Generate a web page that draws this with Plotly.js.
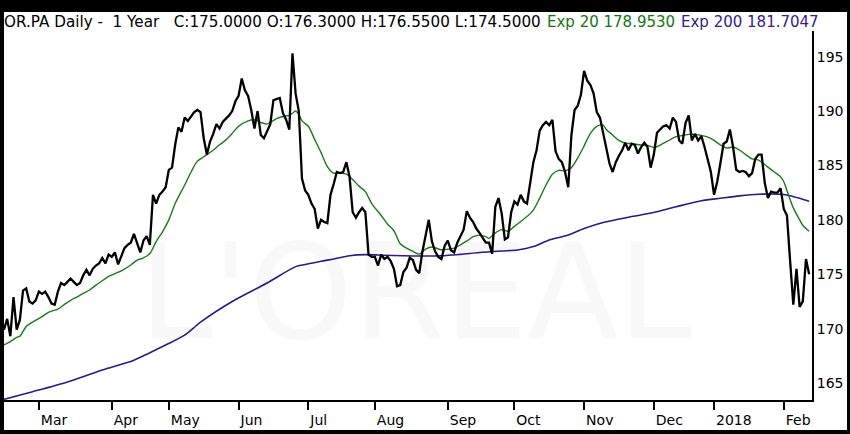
<!DOCTYPE html>
<html><head><meta charset="utf-8">
<script src="https://cdn.plot.ly/plotly-3.0.1.min.js"></script>
<style>
html,body{margin:0;padding:0;background:#000;width:850px;height:434px;overflow:hidden}
#chart{position:absolute;left:4px;top:12px;width:843px;height:418px;background:#fff}
</style>
</head><body><div id="chart"></div>
<script>
// Daily closes, one per trading day (2017-02-14 .. 2018-02-13)
const closeVals = [
169.9,170.9,169.3,172.9,169.9,170.8,173.5,173.7,172.5,172.3,
172.6,173.4,173.2,173.4,172.9,172.3,172.2,173.4,174.2,174.0,
174.3,174.6,174.3,174.0,174.2,174.9,175.4,174.9,175.5,175.8,
176.0,176.5,176.0,176.8,176.6,177.0,175.9,176.7,177.4,177.7,
177.9,178.7,177.8,177.0,178.1,178.5,177.7,182.3,181.5,182.3,
182.6,183.0,184.6,184.8,186.9,188.5,188.1,189.4,189.1,189.5,
189.9,190.1,189.9,187.5,186.0,187.2,187.9,188.8,188.4,189.0,
189.3,189.6,190.0,190.9,191.4,193.0,191.9,191.4,190.1,188.4,
190.0,187.8,187.5,188.1,188.8,191.0,191.1,191.2,189.8,189.2,
188.3,195.3,191.6,190.0,183.8,182.7,182.3,181.5,181.0,179.2,
180.0,179.8,179.7,182.3,183.3,184.4,184.3,184.4,185.3,184.0,
180.7,180.2,180.7,181.1,180.7,176.8,176.6,176.6,175.8,176.8,
176.4,176.6,176.2,175.5,173.9,174.0,175.2,175.6,176.5,176.3,
175.4,175.1,177.1,178.6,180.0,178.0,177.1,176.6,176.4,177.6,
178.1,177.2,177.0,177.9,178.5,179.1,180.8,180.2,179.8,179.2,
178.8,178.3,177.9,177.9,176.9,181.2,182.0,180.6,178.2,178.4,
180.7,181.7,181.4,182.3,181.7,181.5,183.4,185.3,186.4,188.2,
188.7,189.0,188.7,189.2,186.3,185.6,185.3,184.4,183.0,187.8,
190.1,190.5,191.5,193.7,192.8,192.4,191.6,189.9,189.4,188.0,
186.6,185.2,184.4,185.3,185.9,186.4,187.1,186.4,187.0,186.9,
186.1,186.7,187.1,186.7,184.8,186.0,188.0,188.3,188.6,188.7,
188.4,189.4,189.0,187.3,187.0,188.9,189.6,187.3,187.9,187.3,
187.7,186.7,185.4,184.4,182.3,183.5,185.2,187.0,187.2,188.3,
186.7,184.6,184.4,184.5,184.4,184.0,184.3,185.6,186.0,186.0,
183.4,182.0,182.6,182.5,182.5,182.9,181.0,180.4,176.2,172.2,
175.5,172.0,172.5,176.4,175.0
];

// EMA 20 read at selected trading-day indices
const ema20Idx = [0,2,4,5,7,9,12,14,17,19,21,23,25,27,29,31,33,37,40,42,44,46,48,50,52,54,57,59,61,63,66,68,70,72,74,77,79,81,83,84,86,88,90,91,92,93,94,96,98,100,102,104,106,108,110,112,114,116,119,121,123,125,127,129,131,133,135,138,140,142,144,146,148,150,152,153,155,157,159,161,163,165,167,169,171,173,175,177,179,181,183,185,187,189,190,192,194,196,198,201,203,205,206,208,210,212,214,216,218,220,222,224,226,228,230,232,234,236,238,241,243,245,246,247,249,251,252,254];
const ema20Vals = [168.5,168.8,169.2,169.3,170.2,170.6,171.1,171.5,171.8,172.2,172.6,172.9,173.25,173.55,174.0,174.4,174.8,175.3,175.85,176.3,176.5,176.9,178.0,178.9,180.0,181.5,183.2,184.4,185.4,185.8,186.4,186.9,187.35,187.95,188.6,189.1,189.2,188.96,188.8,188.96,189.3,189.5,189.6,189.8,190.0,189.7,189.1,188.6,187.4,186.2,184.9,184.3,184.3,184.2,183.7,183.1,182.6,181.5,180.4,179.6,179.0,177.8,177.4,177.1,176.85,177.3,177.5,177.25,177.3,177.4,177.7,178.06,178.45,178.6,178.45,178.3,178.8,179.1,178.95,179.4,179.85,180.3,180.9,182.0,183.2,184.2,184.55,184.5,184.8,185.7,186.8,187.95,188.6,188.7,188.3,187.8,187.3,187.05,187.0,186.88,186.85,186.65,186.73,187.03,187.34,187.65,187.75,187.86,187.86,187.75,187.6,187.3,186.88,186.6,186.7,186.42,186.0,185.6,185.5,184.85,184.4,183.95,183.5,182.7,181.1,180.0,179.5,178.95];

// EMA 200 read at selected trading-day indices
const ema200Idx = [0,9,20,31,41,51,57,62,72,83,92,95,100,104,109,114,120,126,131,138,144,150,157,162,167,172,178,183,189,198,206,212,220,226,232,238,245,248,251,254];
const ema200Vals = [163.5,164.2,165.1,166.2,167.1,168.5,169.4,170.6,172.5,174.2,175.7,175.9,176.2,176.4,176.7,176.8,176.75,176.7,176.68,176.7,176.83,177.0,177.14,177.23,177.54,178.15,178.6,179.2,179.75,180.3,180.75,181.2,181.75,181.98,182.2,182.35,182.35,182.22,181.98,181.7];

const yTicks = [165,170,175,180,185,190,195];
const monthLabels = ['Jan','Feb','Mar','Apr','May','Jun','Jul','Aug','Sep','Oct','Nov','Dec'];
const firstDay = '2017-02-14';
const marketHolidays = ['2017-04-14','2017-04-17','2017-05-01','2017-12-25','2017-12-26','2018-01-01'];

// trading calendar
function pad(n){return (n<10?'0':'')+n;}
const dates = [];
{
  const d = new Date(firstDay+'T12:00:00Z');
  while (dates.length < closeVals.length) {
    const wd = d.getUTCDay();
    const s = d.getUTCFullYear()+'-'+pad(d.getUTCMonth()+1)+'-'+pad(d.getUTCDate());
    if (wd !== 0 && wd !== 6 && marketHolidays.indexOf(s) < 0) dates.push(s);
    d.setUTCDate(d.getUTCDate()+1);
  }
}
const tickVals = [], tickText = [];
for (let i = 1; i < dates.length; i++) {
  if (dates[i].slice(5,7) !== dates[i-1].slice(5,7)) {
    tickVals.push(dates[i]);
    const m = parseInt(dates[i].slice(5,7),10);
    tickText.push(m === 1 ? dates[i].slice(0,4) : monthLabels[m-1]);
  }
}

const font = 'DejaVu Sans, Verdana, sans-serif';
const traces = [
  {x: ema200Idx.map(i=>dates[i]), y: ema200Vals, type:'scatter', mode:'lines',
   line:{color:'#2c1a86', width:1.6, shape:'spline', smoothing:0.8}, hoverinfo:'skip'},
  {x: ema20Idx.map(i=>dates[i]), y: ema20Vals, type:'scatter', mode:'lines',
   line:{color:'#1b7a1b', width:1.4, shape:'spline', smoothing:0.8}, hoverinfo:'skip'},
  {x: dates, y: closeVals, type:'scatter', mode:'lines',
   line:{color:'#000000', width:2.3}, hoverinfo:'skip'}
];

const layout = {
  width: 843, height: 418,
  margin: {l:0, r:35, t:19, b:30, pad:0},
  paper_bgcolor:'#ffffff', plot_bgcolor:'#ffffff',
  showlegend:false,
  xaxis: {
    type:'category', range:[0, 254.9], categoryorder:'array', categoryarray: dates,
    showline:true, linecolor:'#000', linewidth:2, mirror:false,
    ticks:'outside', ticklen:8, tickwidth:2, tickcolor:'#000',
    tickmode:'array', tickvals: tickVals, ticktext: tickText,
    ticklabelposition:'outside right', ticklabelstandoff:6,
    tickfont:{family:font, size:14, color:'#000'},
    showgrid:false, zeroline:false, fixedrange:true
  },
  yaxis: {
    side:'right', range:[163.44, 197.36],
    showline:true, linecolor:'#000', linewidth:2,
    ticks:'', tickmode:'array', tickvals:yTicks, ticktext: yTicks.map(String),
    tickfont:{family:font, size:14, color:'#000'},
    showgrid:false, zeroline:false, fixedrange:true
  },
  shapes: [{
    type:'rect', xref:'paper', yref:'paper', x0:0.30, x1:0.718, y0:0.25, y1:0.384,
    line:{width:0}, fillcolor:'rgba(0,0,0,0)', layer:'below',
    label:{text:"L'OREAL", textposition:'middle center',
      font:{family:font, size:132, color:'#f8f8f8'}}
  }],
  annotations: [
    {xref:'paper', yref:'paper', x:-0.003, y:1.0244, xanchor:'left', yanchor:'middle', showarrow:false,
     text:'OR.PA Daily -\u00a0\u00a01 Year\u00a0\u00a0\u00a0C:175.0000 O:176.3000 H:176.5500 L:174.5000',
     font:{family:font, size:15.2, color:'#000'}},
    {xref:'paper', yref:'paper', x:0.670, y:1.0244, xanchor:'left', yanchor:'middle', showarrow:false,
     text:'Exp 20 178.9530', font:{family:font, size:15, color:'#117711'}},
    {xref:'paper', yref:'paper', x:0.836, y:1.0244, xanchor:'left', yanchor:'middle', showarrow:false,
     text:'Exp 200 181.7047', font:{family:font, size:15, color:'#35208c'}}
  ]
};

Plotly.newPlot('chart', traces, layout, {staticPlot:true, displayModeBar:false});
</script>
</body></html>
